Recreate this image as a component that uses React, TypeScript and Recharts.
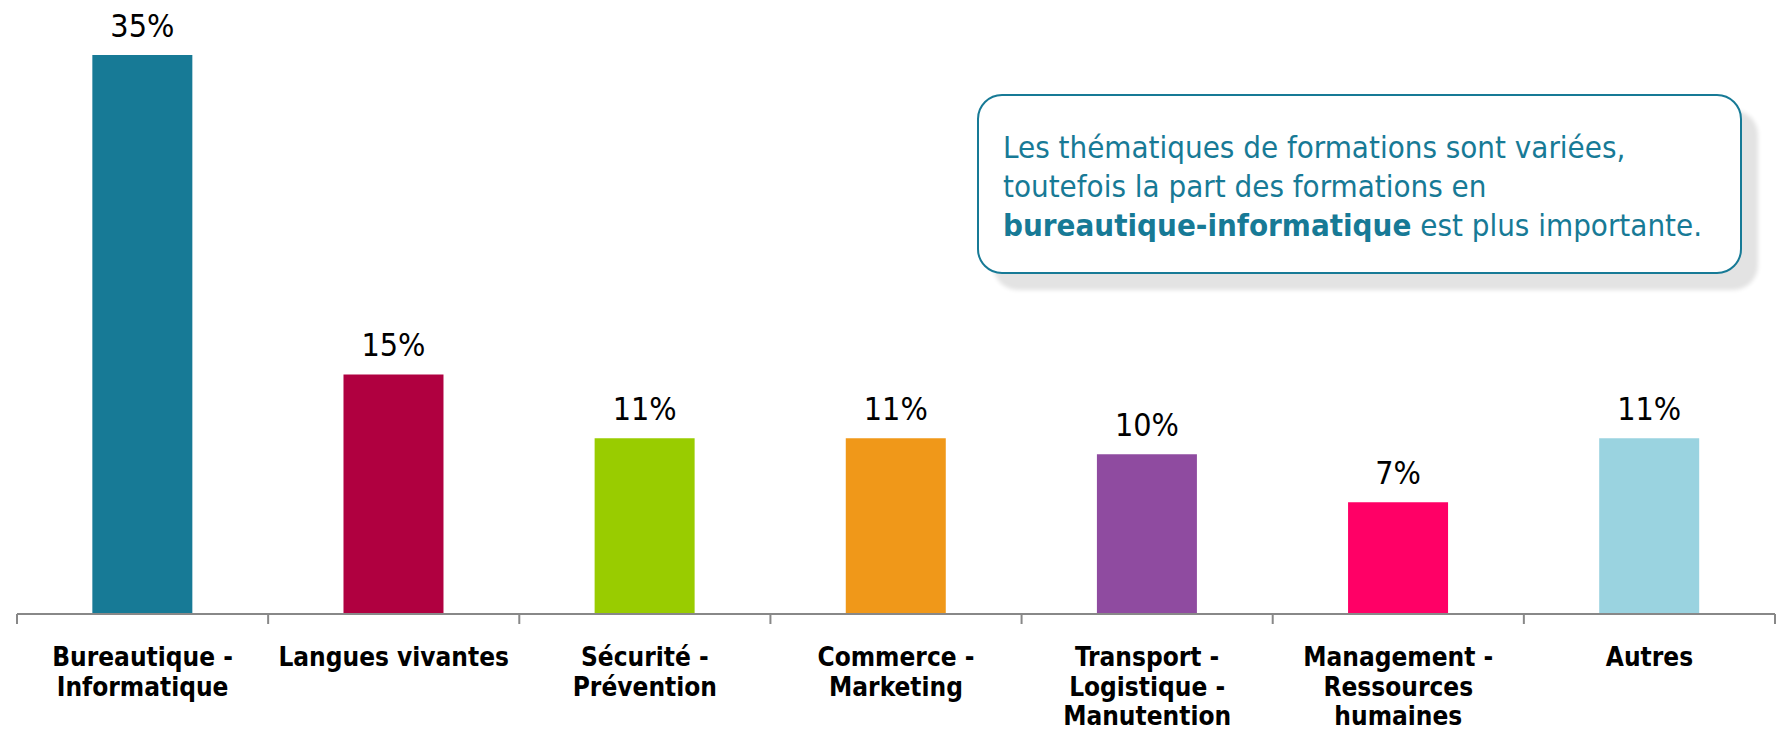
import React from 'react'
import { BarChart, Bar, XAxis, YAxis, Cell, LabelList } from 'recharts'

const categories = [
  'Bureautique -\nInformatique',
  'Langues vivantes',
  'Sécurité -\nPrévention',
  'Commerce -\nMarketing',
  'Transport -\nLogistique -\nManutention',
  'Management -\nRessources\nhumaines',
  'Autres',
]
const shares = [35, 15, 11, 11, 10, 7, 11]
const barColors = ['#177A96', '#B00040', '#99CC00', '#F09819', '#8F4BA0', '#FF0066', '#9AD3E0']

const FONT = "'DejaVu Sans Condensed', 'DejaVu Sans', sans-serif"
const W = 1782
const H = 730
const LEFT = 17
const RIGHT = 7

const data = categories.map((name, i) => ({ name, value: shares[i] }))

// tick marks go on the category boundaries, not the centres
function CategoryTick(props: any) {
  const { x, y, payload, index } = props
  const half = (W - LEFT - RIGHT) / categories.length / 2
  const lines = String(payload.value).split('\n')
  return (
    <g>
      <line x1={x - half} x2={x - half} y1={y - 10} y2={y} stroke="#888" strokeWidth={2} />
      {index === categories.length - 1 && (
        <line x1={x + half} x2={x + half} y1={y - 10} y2={y} stroke="#888" strokeWidth={2} />
      )}
      <text x={x} y={y + 42} textAnchor="middle" fontFamily={FONT} fontWeight="bold" fontSize={26} fill="#000">
        {lines.map((l, i) => (
          <tspan key={i} x={x} dy={i === 0 ? 0 : 29.5}>
            {l}
          </tspan>
        ))}
      </text>
    </g>
  )
}

export default function App() {
  return (
    <div style={{ position: 'relative', width: W, height: H, background: '#fff', overflow: 'hidden' }}>
      <style>{'body{margin:0}'}</style>
      <BarChart width={W} height={H} data={data} margin={{ top: 55, right: RIGHT, bottom: 0, left: LEFT }} barCategoryGap="30%">
        <YAxis hide domain={[0, 35]} />
        <XAxis
          dataKey="name"
          height={116}
          interval={0}
          axisLine={{ stroke: '#888', strokeWidth: 2 }}
          tickLine={false}
          tickSize={8}
          tick={<CategoryTick />}
        />
        <Bar dataKey="value" isAnimationActive={false}>
          {data.map((d, i) => (
            <Cell key={d.name} fill={barColors[i]} />
          ))}
          <LabelList
            dataKey="value"
            position="top"
            offset={18}
            formatter={(v: any) => `${v}%`}
            style={{ fontFamily: FONT, fontSize: 32, fill: '#000' }}
          />
        </Bar>
      </BarChart>
      <div
        style={{
          position: 'absolute',
          left: 977,
          top: 94,
          width: 765,
          height: 180,
          boxSizing: 'border-box',
          border: '2px solid #177A96',
          borderRadius: 25,
          background: '#fff',
          boxShadow: '16px 16px 4px #e3e3e3',
          padding: '32px 0 0 24px',
          fontFamily: FONT,
          fontSize: 31,
          lineHeight: '39px',
          color: '#177A96',
          whiteSpace: 'nowrap',
        }}
      >
        Les thématiques de formations sont variées,
        <br />
        toutefois la part des formations en
        <br />
        <b>bureautique-informatique</b> est plus importante.
      </div>
    </div>
  )
}
